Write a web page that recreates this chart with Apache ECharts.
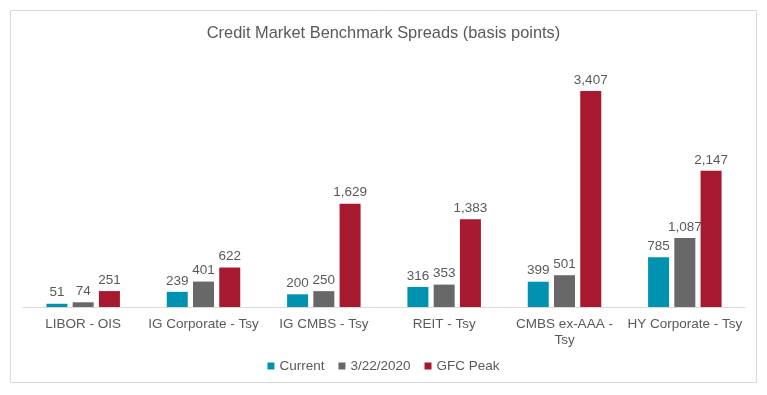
<!DOCTYPE html>
<html>
<head>
<meta charset="utf-8">
<script src="https://cdn.jsdelivr.net/npm/echarts@6/dist/echarts.min.js"></script>
<style>html,body{margin:0;padding:0;background:#fff;}#c{width:767px;height:395px;}</style>
</head>
<body>
<div id="c"></div>
<script>
const categories = ['LIBOR - OIS', 'IG Corporate - Tsy', 'IG CMBS - Tsy', 'REIT - Tsy', 'CMBS ex-AAA -\nTsy', 'HY Corporate - Tsy'];
const current = [51, 239, 200, 316, 399, 785];
const mar2020 = [74, 401, 250, 353, 501, 1087];
const gfcPeak = [251, 622, 1629, 1383, 3407, 2147];
const seriesNames = ['Current', '3/22/2020', 'GFC Peak'];
const colors = ['#0092B0', '#686868', '#A6192E'];

const textColor = '#595959';
const font = 'Liberation Sans, Arial, sans-serif';
const fmt = p => p.value.toLocaleString('en-US');

const chart = echarts.init(document.getElementById('c'));
const mk = (name, data, color) => ({
  name, type: 'bar', data, barWidth: 21, barGap: '25%',
  itemStyle: { color },
  label: { show: true, position: 'top', distance: 4, color: textColor, fontSize: 13.5, fontFamily: font, formatter: fmt }
});
chart.setOption({
  animation: false,
  graphic: [{ type: 'rect', shape: { x: 10.5, y: 10.5, width: 746, height: 372 }, style: { fill: 'none', stroke: '#d9d9d9', lineWidth: 1 }, silent: true }],
  title: { text: 'Credit Market Benchmark Spreads (basis points)', left: 'center', top: 20,
    textStyle: { color: textColor, fontSize: 16.4, fontWeight: 'normal', fontFamily: font } },
  legend: { bottom: 17, left: 'center', itemWidth: 7, itemHeight: 7, itemGap: 14, icon: 'rect',
    textStyle: { color: textColor, fontSize: 13.5, fontFamily: font } },
  grid: { left: 23, right: 22, top: 85, bottom: 88, containLabel: false },
  xAxis: { type: 'category', data: categories,
    axisLine: { lineStyle: { color: '#d9d9d9' } }, axisTick: { show: false },
    axisLabel: { color: textColor, fontSize: 13.5, fontFamily: font, margin: 9, interval: 0, lineHeight: 16 } },
  yAxis: { type: 'value', min: 0, max: 3500, show: false, splitLine: { show: false } },
  series: [mk(seriesNames[0], current, colors[0]), mk(seriesNames[1], mar2020, colors[1]), mk(seriesNames[2], gfcPeak, colors[2])]
});
</script>
</body>
</html>
